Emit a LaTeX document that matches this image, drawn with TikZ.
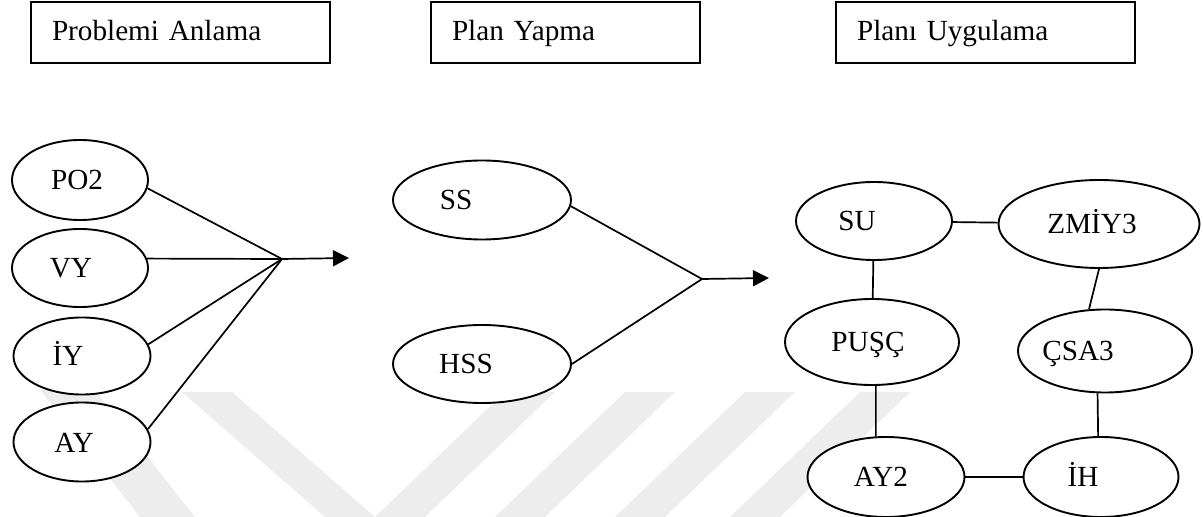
\documentclass[tikz,border=0pt]{standalone}
\usepackage{fontspec}
\setmainfont{Liberation Serif}
\usetikzlibrary{shapes,arrows.meta,positioning}
\definecolor{wmgray}{RGB}{237,237,237}
\newcommand{\labelfont}{\fontsize{14.6}{17}\selectfont}
\tikzset{
	phase/.style={
		rectangle,
		draw,
		line width=1.3pt,
		minimum height=30.5pt,
		inner xsep=10.5pt,
		text height=11pt,
		text depth=2.5pt,
		align=left,
		font=\labelfont,
	},
	oval/.style={
		ellipse,
		draw,
		fill=white,
		line width=0.95pt,
		inner sep=0pt,
		text height=11pt,
		text depth=1pt,
		font=\labelfont,
	},
	tshift/.style={
		execute at begin node={\kern-#1pt},
	},
	link/.style={
		line width=0.85pt,
	},
	arc/.style={
		-{Triangle[length=8pt,width=8pt]},
		line width=0.85pt,
	},
	stripe/.style={
		fill=wmgray,
		draw=none,
	},
}

\begin{document}
\begin{tikzpicture}[x=0.5pt,y=-0.5pt]
	\useasboundingbox (0,0) rectangle (1203,517);

	% watermark
	\fill[stripe] (40,390) -- (95,390) -- (195,517) -- (140,517) -- cycle;
	\fill[stripe] (182,392) -- (232,392) -- (375,517) -- (325,517) -- cycle;
	\fill[stripe] (375,517) -- (425,517) -- (555,392) -- (505,392) -- cycle;
	\fill[stripe] (495,517) -- (545,517) -- (675,392) -- (625,392) -- cycle;
	\fill[stripe] (615,517) -- (665,517) -- (795,392) -- (745,392) -- cycle;
	\fill[stripe] (730,517) -- (780,517) -- (910,392) -- (860,392) -- cycle;

	% stages
	\node [phase, text width=128.5pt] (anlama) at (180.5,32.5) {Problemi Anlama};
	\node [phase, text width=113.5pt] (plan) at (565.5,32.5) {Plan Yapma};
	\node [phase, text width=128.5pt] (uygulama) at (985.5,32.5) {Planı Uygulama};

	% first stage
	\node [oval, minimum width=68pt, minimum height=40pt, tshift=3] (po2) at (80,180) {PO2};
	\node [oval, minimum width=68pt, minimum height=39pt, tshift=9] (vy) at (80,268) {VY};
	\node [oval, minimum width=68.5pt, minimum height=38.5pt, tshift=14] (iy) at (82,356) {İY};
	\node [oval, minimum width=68.5pt, minimum height=39.5pt, tshift=8] (ay) at (82,442) {AY};
	\coordinate (m1) at (282,259);
	\coordinate (a1) at (349,258);

	% second stage
	\node [oval, minimum width=89pt, minimum height=39.5pt, tshift=26] (ss) at (482,200) {SS};
	\node [oval, minimum width=89pt, minimum height=39pt, tshift=16] (hss) at (482,364) {HSS};
	\coordinate (m2) at (702,279);
	\coordinate (a2) at (769,278);

	% third stage
	\node [oval, minimum width=78pt, minimum height=39pt, tshift=17] (su) at (874,221) {SU};
	\node [oval, minimum width=100.5pt, minimum height=44pt, tshift=7] (zmiy) at (1099,224) {ZMİY3};
	\node [oval, minimum width=87pt, minimum height=43pt, tshift=4] (pusc) at (872,342) {PUŞÇ};
	\node [oval, minimum width=87pt, minimum height=41.5pt, tshift=27] (csa) at (1105,351) {ÇSA3};
	\node [oval, minimum width=78.5pt, minimum height=40pt, tshift=5] (ay2) at (886,477) {AY2};
	\node [oval, minimum width=77.5pt, minimum height=40pt, tshift=18] (ih) at (1101,477) {İH};

	\draw[link] (po2.-7) -- (m1);
	\draw[link] (vy.8) -- (m1);
	\draw[link] (iy.10) -- (m1);
	\draw[link] (ay.11) -- (m1);
	\draw[arc] (m1) -- (a1);

	\draw[link] (ss.-4) -- (m2);
	\draw[link] (hss.east) -- (m2);
	\draw[arc] (m2) -- (a2);

	\draw[link] (su) -- (zmiy);
	\draw[link] (su) -- (pusc);
	\draw[link] (zmiy.south) -- (csa.111);
	\draw[link] (pusc.-85) -- (ay2.104);
	\draw[link] (csa.-100) -- (ih.94);
	\draw[link] (ay2) -- (ih);
\end{tikzpicture}
\end{document}
